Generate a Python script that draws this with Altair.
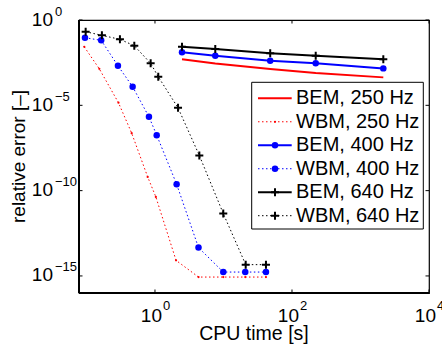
import altair as alt
import pandas as pd

FONT = "Liberation Sans"

# ---- data (CPU time [s], relative error [-]) ----
wbm250_t = [0.0929, 0.154, 0.293, 0.457, 0.782, 1.03, 2.03, 4.32, 9.93, 20.8, 41.7]
wbm250_e = [2.67e-2, 1.37e-3, 1.42e-5, 2.34e-7, 6.37e-10, 4.27e-11, 8.2e-15, 8.6e-16, 8.6e-16, 8.6e-16, 8.6e-16]
wbm400_t = [0.0951, 0.164, 0.288, 0.472, 0.817, 1.06, 2.07, 4.32, 9.93, 20.8, 41.7]
wbm400_e = [9.15e-2, 6.44e-2, 2.08e-3, 1.22e-4, 2.11e-6, 1.78e-7, 2.38e-10, 4.58e-14, 1.69e-15, 1.69e-15, 1.69e-15]
wbm640_t = [0.0973, 0.168, 0.308, 0.499, 0.865, 1.117, 2.17, 4.44, 9.93, 21.1, 41.7]
wbm640_e = [0.206, 0.126, 7.36e-2, 3.10e-2, 2.88e-3, 4.71e-4, 7.13e-6, 1.15e-8, 4.53e-12, 4.6e-15, 4.6e-15]
bem_t = [2.48, 7.59, 48.1, 222, 2153]
bem250_e = [4.94e-3, 2.8e-3, 1.33e-3, 7.76e-4, 4.34e-4]
bem400_e = [1.27e-2, 8.04e-3, 4.09e-3, 2.88e-3, 1.46e-3]
bem640_e = [2.71e-2, 1.99e-2, 1.11e-2, 8.04e-3, 4.94e-3]

legend_labels = ["BEM, 250 Hz", "WBM, 250 Hz", "BEM, 400 Hz", "WBM, 400 Hz", "BEM, 640 Hz", "WBM, 640 Hz"]
x_tick_exp = [0, 2, 4]
y_tick_exp = [0, -5, -10, -15]
x_title = "CPU time [s]"
y_title = "relative error [–]"

W, H = 350, 273
PLUS = "M-1,0L1,0M0,-1L0,1"

xs = alt.Scale(type="log", domain=[0.0778, 10000], nice=False)
ys = alt.Scale(type="log", domain=[1e-16, 1], nice=False)


def base(t, e):
    df = pd.DataFrame({"t": t, "e": e})
    return alt.Chart(df).encode(
        x=alt.X("t:Q", scale=xs, axis=None),
        y=alt.Y("e:Q", scale=ys, axis=None),
    )


DOT = [1.5, 2.5]
layers = []
# BEM 250
layers.append(base(bem_t, bem250_e).mark_line(color="#ff0000", strokeWidth=2))
# WBM 250
b = base(wbm250_t, wbm250_e)
layers.append(b.mark_line(color="#ff0000", strokeWidth=1, strokeDash=DOT))
layers.append(b.mark_point(shape="circle", filled=True, size=5, color="#ff0000", opacity=1))
# BEM 400
b = base(bem_t, bem400_e)
layers.append(b.mark_line(color="#0000ff", strokeWidth=2))
layers.append(b.mark_point(shape="circle", filled=True, size=42, color="#0000ff", opacity=1))
# WBM 400
b = base(wbm400_t, wbm400_e)
layers.append(b.mark_line(color="#0000ff", strokeWidth=1, strokeDash=DOT))
layers.append(b.mark_point(shape="circle", filled=True, size=42, color="#0000ff", opacity=1))
# BEM 640
b = base(bem_t, bem640_e)
layers.append(b.mark_line(color="#000000", strokeWidth=2))
layers.append(b.mark_point(shape=PLUS, filled=False, size=64, color="#000000", strokeWidth=2, opacity=1))
# WBM 640
b = base(wbm640_t, wbm640_e)
layers.append(b.mark_line(color="#000000", strokeWidth=1, strokeDash=DOT))
layers.append(b.mark_point(shape=PLUS, filled=False, size=64, color="#000000", strokeWidth=2, opacity=1))

# ---- ticks (inward, all four sides) ----
xt = pd.DataFrame({"v": [10.0 ** k for k in x_tick_exp],
                   "exp": [str(k).replace("-", "−") for k in x_tick_exp]})
yt = pd.DataFrame({"v": [10.0 ** k for k in y_tick_exp],
                   "exp": [str(k).replace("-", "−") for k in y_tick_exp]})
TL = 3.5
xb = alt.Chart(xt).encode(x=alt.X("v:Q", scale=xs, axis=None))
yb = alt.Chart(yt).encode(y=alt.Y("v:Q", scale=ys, axis=None))
layers.append(xb.mark_rule(color="black", strokeWidth=1).encode(y=alt.value(H), y2=alt.value(H - TL)))
layers.append(xb.mark_rule(color="black", strokeWidth=1).encode(y=alt.value(0), y2=alt.value(TL)))
layers.append(yb.mark_rule(color="black", strokeWidth=1).encode(x=alt.value(0), x2=alt.value(TL)))
layers.append(yb.mark_rule(color="black", strokeWidth=1).encode(x=alt.value(W), x2=alt.value(W - TL)))

# ---- tick labels 10^k ----
layers.append(xb.mark_text(font=FONT, fontSize=19, align="right", baseline="alphabetic", dx=7, color="black")
              .encode(y=alt.value(301.5), text=alt.value("10")))
layers.append(xb.mark_text(font=FONT, fontSize=13, align="left", baseline="alphabetic", dx=8, color="black")
              .encode(y=alt.value(289.5), text="exp:N"))
layers.append(yb.mark_text(font=FONT, fontSize=19, align="right", baseline="alphabetic", dy=5.5, color="black")
              .encode(x=alt.value(-26), text=alt.value("10")))
layers.append(yb.mark_text(font=FONT, fontSize=13, align="left", baseline="alphabetic", dy=-4.5, color="black")
              .encode(x=alt.value(-24), text="exp:N"))

# ---- axis titles ----
one = pd.DataFrame({"a": [0]})
layers.append(alt.Chart(one).mark_text(font=FONT, fontSize=19.5, align="center", baseline="alphabetic", color="black")
              .encode(x=alt.value(W / 2), y=alt.value(320), text=alt.value(x_title)))
layers.append(alt.Chart(one).mark_text(font=FONT, fontSize=19, align="center", baseline="alphabetic", angle=270, color="black")
              .encode(x=alt.value(-54), y=alt.value(H / 2), text=alt.value(y_title)))

# heavier left/bottom axis lines
layers.append(alt.Chart(one).mark_rule(color="black", strokeWidth=2)
              .encode(x=alt.value(0), y=alt.value(0), y2=alt.value(H)))
layers.append(alt.Chart(one).mark_rule(color="black", strokeWidth=2)
              .encode(x=alt.value(0), x2=alt.value(W), y=alt.value(H)))

main = alt.layer(*layers)

# ---- legend ----
leg = pd.DataFrame({"row": list(range(len(legend_labels))), "label": legend_labels})
ly = alt.Scale(type="point", domain=list(range(len(legend_labels))), range=[78.3, 195.7], padding=0)
LX1, LX2, LXM, LXT = 179, 212.7, 196, 217


def lrow(i):
    return alt.Chart(leg[leg["row"] == i]).encode(y=alt.Y("row:O", scale=ly, axis=None))


leg_layers = [
    alt.Chart(one).mark_rect(fill="white", stroke="black", strokeWidth=1)
    .encode(x=alt.value(172.7), x2=alt.value(344.3), y=alt.value(62.3), y2=alt.value(209))
]
styles = [
    ("#ff0000", None, None, 0),
    ("#ff0000", DOT, "dot", 5),
    ("#0000ff", None, "circle", 42),
    ("#0000ff", DOT, "circle", 42),
    ("#000000", None, "plus", 64),
    ("#000000", DOT, "plus", 64),
]
for i, (col, dash, mk, sz) in enumerate(styles):
    r = lrow(i)
    if dash:
        leg_layers.append(r.mark_rule(color=col, strokeWidth=1, strokeDash=dash)
                          .encode(x=alt.value(LX1), x2=alt.value(LX2)))
    else:
        leg_layers.append(r.mark_rule(color=col, strokeWidth=2)
                          .encode(x=alt.value(LX1), x2=alt.value(LX2)))
    if mk in ("dot", "circle"):
        leg_layers.append(r.mark_point(shape="circle", filled=True, size=sz, color=col, opacity=1)
                          .encode(x=alt.value(LXM)))
    elif mk == "plus":
        leg_layers.append(r.mark_point(shape=PLUS, filled=False, size=sz, color=col, strokeWidth=2, opacity=1)
                          .encode(x=alt.value(LXM)))
leg_layers.append(alt.Chart(leg).mark_text(font=FONT, fontSize=20, align="left", baseline="middle", color="black")
                  .encode(y=alt.Y("row:O", scale=ly, axis=None), x=alt.value(LXT), text="label:N"))
legend = alt.layer(*leg_layers)

chart = (
    alt.layer(main, legend)
    .resolve_scale(y="independent")
    .properties(
        width=W, height=H,
        autosize=alt.AutoSizeParams(type="none"),
        padding={"left": 79, "top": 20, "right": 13, "bottom": 55},
        background="white",
    )
    .configure_view(stroke="black", strokeWidth=1.2)
)

chart.save("out.html", embed_options={"renderer": "svg", "actions": False})
